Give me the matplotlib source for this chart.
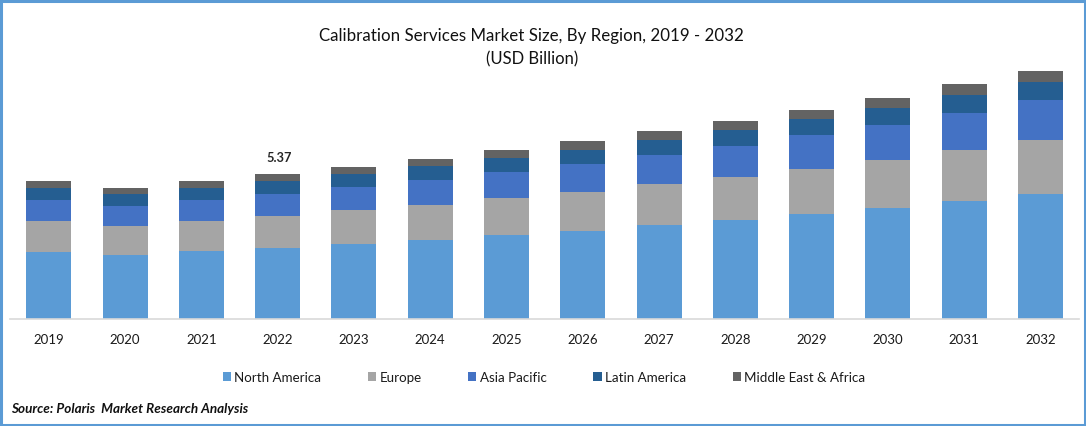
import matplotlib
matplotlib.use("Agg")
import matplotlib.pyplot as plt
import numpy as np
from matplotlib.patches import Rectangle

plt.rcParams['font.family'] = ['Lato', 'DejaVu Sans']

years = ["2019","2020","2021","2022","2023","2024","2025","2026","2027","2028","2029","2030","2031","2032"]
north_america = [2.48,2.37,2.52,2.63,2.78,2.93,3.11,3.26,3.48,3.67,3.89,4.11,4.37,4.63]
europe = [1.15,1.07,1.11,1.19,1.26,1.30,1.37,1.44,1.52,1.59,1.67,1.78,1.89,2.00]
asia_pacific = [0.78,0.74,0.78,0.81,0.85,0.93,0.96,1.04,1.07,1.15,1.26,1.30,1.37,1.48]
latin_america = [0.44,0.44,0.44,0.48,0.48,0.52,0.52,0.52,0.56,0.59,0.59,0.63,0.67,0.67]
middle_east = [0.26,0.22,0.26,0.26,0.26,0.26,0.30,0.33,0.33,0.33,0.33,0.37,0.41,0.41]
series_names = ["North America","Europe","Asia Pacific","Latin America","Middle East & Africa"]
colors = ["#5B9BD5","#A5A5A5","#4472C4","#255E91","#636363"]
annotated_index = 3
annotated_label = "5.37"

W, H = 1086, 426
fig = plt.figure(figsize=(W/100, H/100), dpi=100, facecolor="white")
ax = fig.add_axes([10/W, 1-319/H, 1068.5/W, 259/H])
x = np.arange(len(years))
bottom = np.zeros(len(years))
handles = []
for vals, name, c in zip([north_america, europe, asia_pacific, latin_america, middle_east], series_names, colors):
    b = ax.bar(x, vals, 0.59, bottom=bottom, color=c, label=name, linewidth=0)
    handles.append(b)
    bottom = bottom + np.array(vals)
ax.set_xlim(-0.51, 13.5)
ax.set_ylim(0, 259/27)
ax.set_yticks([])
ax.set_xticks(x)
ax.set_xticklabels(years, fontsize=9.5, color="#1a1a1a")
ax.tick_params(axis='x', length=0, pad=11)
for s in ["top","left","right"]:
    ax.spines[s].set_visible(False)
ax.spines["bottom"].set_color("#D9D9D9")
ax.spines["bottom"].set_linewidth(1.2)
ax.text(x[annotated_index]+0.02, bottom[annotated_index]+0.37, annotated_label, ha="center", va="bottom",
        fontsize=9.2, fontweight="bold", color="#262626")

fig.text(531.5/W, 1-36.5/H, "Calibration Services Market Size, By Region, 2019 - 2032", ha="center", va="center", fontsize=12.17, color="#111111")
fig.text(532.5/W, 1-59.5/H, "(USD Billion)", ha="center", va="center", fontsize=12.0, color="#111111")

leg = fig.legend(handles=handles, labels=series_names, loc="center", bbox_to_anchor=(544/W, 1-377.5/H), ncol=5,
                 frameon=False, fontsize=9.6, handlelength=0.62, handleheight=0.62, handletextpad=0.25,
                 columnspacing=3.5, labelcolor="#1a1a1a")

fig.text(11/W, 1-409/H, "Source: Polaris  Market Research Analysis", ha="left", va="center", fontsize=9.75,
         fontweight="bold", fontstyle="italic", color="#111111")

fig.add_artist(Rectangle((1/W, 1/H), (W-2)/W, (H-2)/H, transform=fig.transFigure, fill=False,
                         edgecolor="#5B9BD5", linewidth=2.2))
fig.savefig("out.png", dpi=100, facecolor="white")
